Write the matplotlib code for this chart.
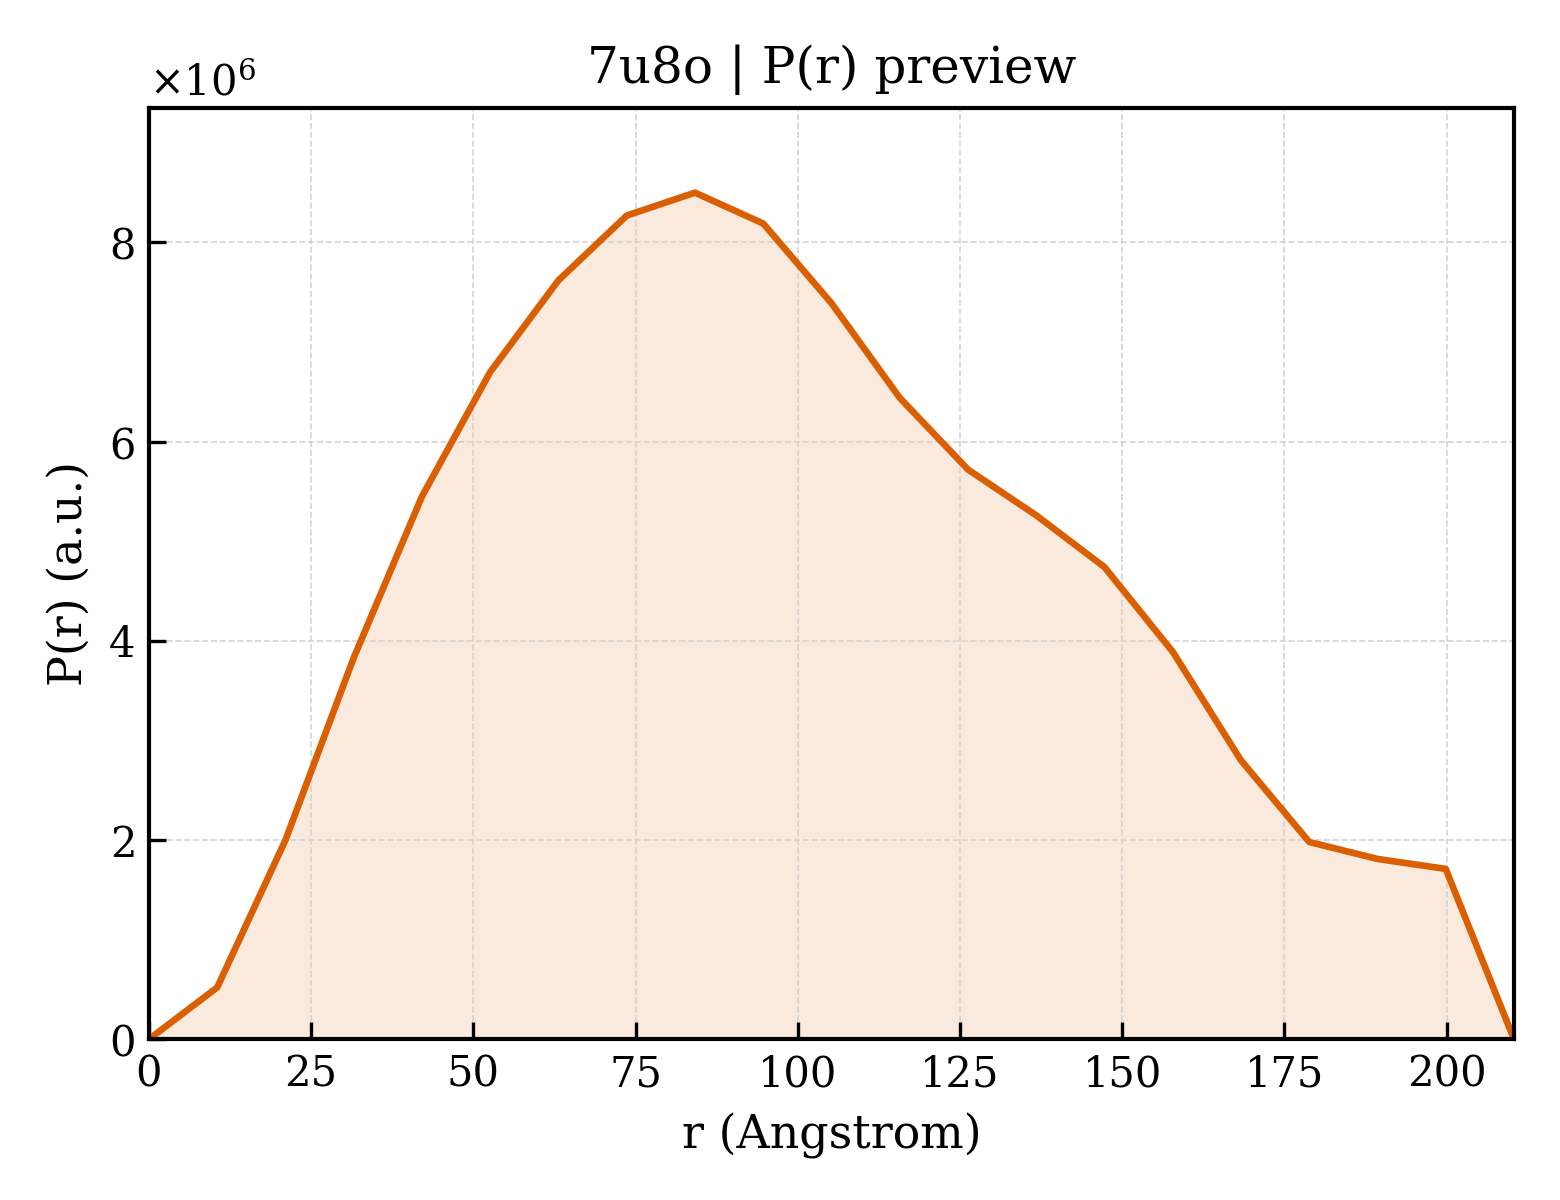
import matplotlib
matplotlib.use("Agg")
import matplotlib.pyplot as plt

plt.rcParams["font.family"] = "DejaVu Serif"
plt.rcParams["mathtext.fontset"] = "dejavuserif"

# P(r) curve
r = [0.0, 10.52, 21.04, 31.56, 42.08, 52.6, 63.12, 73.64, 84.16, 94.68, 105.2,
     115.72, 126.24, 136.76, 147.28, 157.8, 168.32, 178.84, 189.36, 199.88, 210.4]
pr = [0.0, 0.52, 2.0, 3.83, 5.45, 6.70, 7.62, 8.27, 8.50, 8.19, 7.39,
      6.44, 5.72, 5.26, 4.74, 3.89, 2.80, 1.98, 1.81, 1.71, 0.0]
pr = [v * 1e6 for v in pr]

color = "#d95f02"

fig = plt.figure(figsize=(5.2, 4), dpi=300)
ax = fig.add_axes([0.0955, 0.134, 0.875, 0.776])

ax.plot(r, pr, color=color, lw=1.6)
ax.fill_between(r, pr, 0, color=color, alpha=0.13, lw=0)

ax.set_xlim(0, r[-1])
ax.set_ylim(0, max(pr) * 1.1)
ax.set_xticks([0, 25, 50, 75, 100, 125, 150, 175, 200])
ax.set_yticks([0, 2e6, 4e6, 6e6, 8e6])
ax.ticklabel_format(axis="y", style="sci", scilimits=(0, 0), useMathText=True)

ax.grid(True, ls="--", lw=0.4, color="#d0d0d0", alpha=0.9)
ax.tick_params(direction="in", labelsize=10, length=4, width=0.8)
for s in ax.spines.values():
    s.set_linewidth(1.0)

ax.set_xlabel("r (Angstrom)", fontsize=11)
ax.set_ylabel("P(r) (a.u.)", fontsize=11)
ax.set_title("7u8o | P(r) preview", fontsize=12)
ax.yaxis.get_offset_text().set_fontsize(10)

fig.savefig("out.png", dpi=300)
